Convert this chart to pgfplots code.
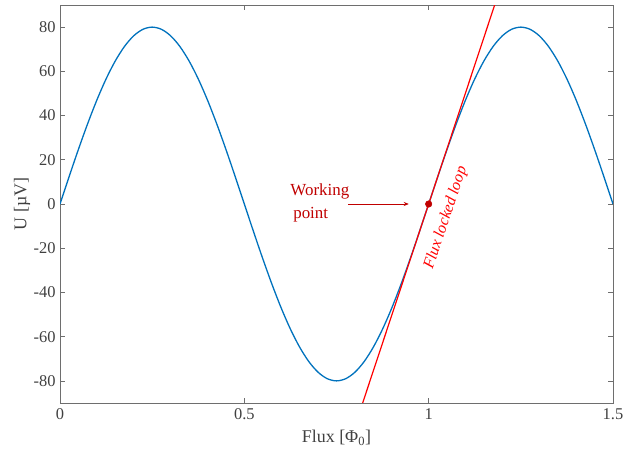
\documentclass[border=0pt]{standalone}
\usepackage{pgfplots}
\pgfplotsset{compat=1.18}
\usepackage{fontspec}
\setmainfont{Liberation Serif}
\usetikzlibrary{arrows.meta}
\definecolor{mblue}{RGB}{0,114,189}
\definecolor{wpred}{RGB}{192,0,0}
\definecolor{axgray}{RGB}{110,110,110}
\begin{document}
\begin{tikzpicture}[x=1bp,y=1bp]
\begin{axis}[
    scale only axis,
    width=553bp, height=398bp,
    xmin=0, xmax=1.5,
    ymin=-90, ymax=90,
    xtick={0,0.5,1,1.5},
    xticklabels={0,0.5,1,1.5},
    ytick={-80,-60,-40,-20,0,20,40,60,80},
    yticklabels={-80,-60,-40,-20,0,20,40,60,80},
    tick align=inside,
    major tick length=5bp,
    axis line style={axgray, line width=0.6bp},
    tick style={axgray, line width=0.6bp},
    ticklabel style={font=\fontsize{16.5}{18}\selectfont, text=black!75},
    yticklabel style={xshift=-1bp},
    xticklabel style={yshift=-2bp},
    xlabel={Flux [Φ\textsubscript{0}]},
    ylabel={U [µV]},
    label style={font=\fontsize{18}{20}\selectfont, text=black!75},
    xlabel style={at={(axis description cs:0.5,-0.1005)}, anchor=base},
    ylabel style={at={(axis description cs:-0.0687,0.5)}, anchor=center},
    clip mode=individual,
]
\path (rel axis cs:-0.1085,-0.1231) rectangle (rel axis cs:1.0344,1.0126);

\addplot[mblue, line width=1.3bp, smooth] coordinates {
(0,0)(0.025,12.515)(0.05,24.721)(0.075,36.319)(0.1,47.023)(0.125,56.569)(0.15,64.721)(0.175,71.281)(0.2,76.085)(0.225,79.015)(0.25,80)(0.275,79.015)(0.3,76.085)(0.325,71.281)(0.35,64.721)(0.375,56.569)(0.4,47.023)(0.425,36.319)(0.45,24.721)(0.475,12.515)(0.5,0)
(0.525,-12.515)(0.55,-24.721)(0.575,-36.319)(0.6,-47.023)(0.625,-56.569)(0.65,-64.721)(0.675,-71.281)(0.7,-76.085)(0.725,-79.015)(0.75,-80)(0.775,-79.015)(0.8,-76.085)(0.825,-71.281)(0.85,-64.721)(0.875,-56.569)(0.9,-47.023)(0.925,-36.319)(0.95,-24.721)(0.975,-12.515)(1,0)
(1.025,12.515)(1.05,24.721)(1.075,36.319)(1.1,47.023)(1.125,56.569)(1.15,64.721)(1.175,71.281)(1.2,76.085)(1.225,79.015)(1.25,80)(1.275,79.015)(1.3,76.085)(1.325,71.281)(1.35,64.721)(1.375,56.569)(1.4,47.023)(1.425,36.319)(1.45,24.721)(1.475,12.515)(1.5,0)
};

% flux locked loop line, tangent at the working point
\addplot[red, line width=1.2bp] coordinates {(0.8,-100.53) (1.2,100.53)};

% working point
\addplot[only marks, mark=*, mark size=3.3bp, wpred] coordinates {(1,0)};

\draw[wpred, line width=0.6bp, -{Stealth[length=5bp,width=4bp]}] (axis cs:0.782,0) -- (axis cs:0.946,0);
\node[wpred, align=left, font=\fontsize{17}{23}\selectfont, inner sep=0pt] at (axis cs:0.705,0.5) {Working\\\,point};
\node[red, rotate=71.6, font=\fontsize{16}{18}\selectfont\itshape] at (axis cs:1.047,-6.3) {Flux locked loop};
\end{axis}
\end{tikzpicture}
\end{document}
